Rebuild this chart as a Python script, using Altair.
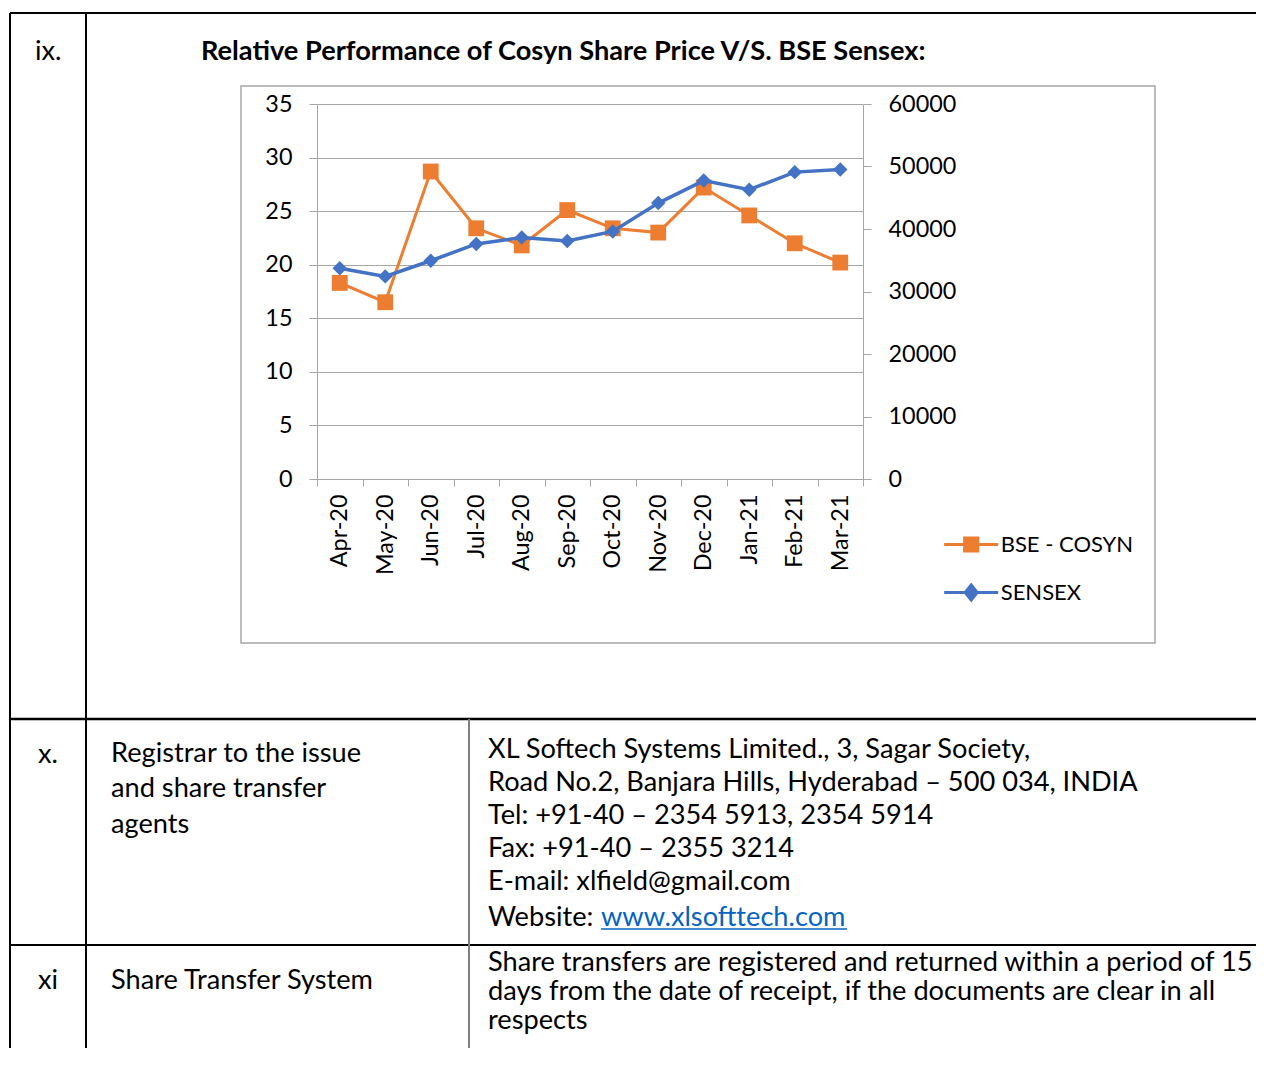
import altair as alt
import pandas as pd

# ---------------- data ----------------
months = ["Apr-20", "May-20", "Jun-20", "Jul-20", "Aug-20", "Sep-20",
          "Oct-20", "Nov-20", "Dec-20", "Jan-21", "Feb-21", "Mar-21"]
cosyn = [18.3, 16.5, 28.7, 23.4, 21.8, 25.1, 23.4, 23.0, 27.2, 24.6, 22.0, 20.2]
sensex = [33720, 32420, 34920, 37610, 38630, 38070, 39610, 44150, 47750, 46290, 49100, 49510]
series_names = ["BSE - COSYN", "SENSEX"]
left_ticks = [0, 5, 10, 15, 20, 25, 30, 35]
right_ticks = [0, 10000, 20000, 30000, 40000, 50000, 60000]

title_text = "Relative Performance of Cosyn Share Price V/S. BSE Sensex:"
row_ix = "ix."
row_x = "x."
row_xi = "xi"
registrar_label = ["Registrar to the issue", "and share transfer", "agents"]
registrar_lines = ["XL Softech Systems Limited., 3, Sagar Society,",
                   "Road No.2, Banjara Hills, Hyderabad \u2013 500 034, INDIA",
                   "Tel: +91-40 \u2013 2354 5913, 2354 5914",
                   "Fax: +91-40 \u2013 2355 3214",
                   "E-mail: xlfield@gmail.com"]
website_label = "Website: "
website_link = "www.xlsofttech.com"
transfer_label = "Share Transfer System"
transfer_lines = ["Share transfers are registered and returned within a period of 15",
                  "days from the date of receipt, if the documents are clear in all",
                  "respects"]

df = pd.DataFrame({
    "month": months * 2,
    "series": [series_names[0]] * len(months) + [series_names[1]] * len(months),
    "value": cosyn + sensex,
})

# ---------------- style ----------------
FONT = "Lato"
ORANGE = "#ED7D31"
BLUE = "#4472C4"
GRAY = "#a6a6a6"
OX, OY = 317, 104   # page position of the plot area's top-left corner
PW, PH = 546, 375
CANVAS_W, CANVAS_H = 1248, 1040
AX_FS = 23.4
BODY_FS = 27.2
TEXT_DY = 1.5


def px(v):
    return v - OX


def py(v):
    return v - OY


one = alt.InlineData(values=[{"k": 0}])

base = alt.Chart(df)
x_enc = alt.X("month:N", sort=months, bandPosition=0.5,
              scale=alt.Scale(type="band", paddingInner=0, paddingOuter=0),
              axis=alt.Axis(title=None, labelAngle=-90, tickBand="extent", tickSize=7,
                            labelPadding=8, domainColor=GRAY, tickColor=GRAY,
                            labelFont=FONT, labelFontSize=AX_FS, labelColor="black",
                            grid=False))

left_y = alt.Y("value:Q", scale=alt.Scale(domain=[0, 35], nice=False, zero=True),
               axis=alt.Axis(title=None, orient="left", values=left_ticks, grid=True,
                             gridColor=GRAY, gridWidth=1, tickSize=8, labelPadding=17,
                             domainColor=GRAY, tickColor=GRAY, labelFont=FONT,
                             labelFontSize=AX_FS, labelColor="black"))
right_y = alt.Y("value:Q", scale=alt.Scale(domain=[0, 60000], nice=False, zero=True),
                axis=alt.Axis(title=None, orient="right", values=right_ticks, grid=False,
                              format="d", tickSize=8, labelPadding=17,
                              domainColor=GRAY, tickColor=GRAY, labelFont=FONT,
                              labelFontSize=AX_FS, labelColor="black"))

cosyn_base = base.transform_filter(alt.datum.series == series_names[0])
left_group = alt.layer(
    cosyn_base.mark_line(color=ORANGE, strokeWidth=3).encode(x=x_enc, y=left_y),
    cosyn_base.mark_point(shape="square", filled=True, size=250, color=ORANGE,
                          opacity=1).encode(x=x_enc, y=left_y),
)
sensex_base = base.transform_filter(alt.datum.series == series_names[1])
right_group = alt.layer(
    sensex_base.mark_line(color=BLUE, strokeWidth=3.5).encode(x=x_enc, y=right_y),
    sensex_base.mark_point(shape="diamond", filled=True, size=210, color=BLUE,
                           opacity=1).encode(x=x_enc, y=right_y),
)

# legend (line with marker symbols), drawn by the library's legend
sq_path = "M-1.35,0H1.35M-0.33,-0.33H0.33V0.33H-0.33Z"
dia_path = "M-1.35,0H1.35M0,-0.38L0.3,0L0,0.38L-0.3,0Z"
LEG = alt.Legend(title=None, orient="none", legendX=px(949.7), legendY=py(523),
                 symbolSize=1600, symbolStrokeWidth=3, labelOffset=8, rowPadding=13,
                 padding=0, labelFont=FONT, labelFontSize=22.0, labelColor="black",
                 labelLimit=400)
legend_layer = base.transform_filter("false").mark_point(filled=True, opacity=1).encode(
    fill=alt.Fill("series:N", scale=alt.Scale(domain=series_names, range=[ORANGE, BLUE]), legend=LEG),
    stroke=alt.Stroke("series:N", scale=alt.Scale(domain=series_names, range=[ORANGE, BLUE]), legend=LEG),
    shape=alt.Shape("series:N", scale=alt.Scale(domain=series_names, range=[sq_path, dia_path]), legend=LEG),
)

# chart frame
frame = alt.Chart(one).mark_rect(fillOpacity=0, stroke=GRAY, strokeWidth=1.5).encode(
    x=alt.value(px(241)), x2=alt.value(px(1155)), y=alt.value(py(86)), y2=alt.value(py(643)))


# ---------------- surrounding table ----------------
def hline(y, x1, x2, color="black", w=2):
    return alt.Chart(one).mark_rule(color=color, strokeWidth=w).encode(
        x=alt.value(px(x1)), x2=alt.value(px(x2)), y=alt.value(py(y)))


def vline(x, y1, y2, color="black", w=2):
    return alt.Chart(one).mark_rule(color=color, strokeWidth=w).encode(
        x=alt.value(px(x)), y=alt.value(py(y1)), y2=alt.value(py(y2)))


def text(lines, x, y, size=BODY_FS, weight="normal", color="black", lh=None):
    kw = dict(align="left", baseline="middle", font=FONT, fontSize=size,
              fontWeight=weight, color=color)
    if lh is not None:
        kw["lineHeight"] = lh
    return alt.Chart(one).mark_text(**kw).encode(
        x=alt.value(px(x)), y=alt.value(py(y + TEXT_DY)), text=alt.value(lines))


table = [
    hline(13, 10, 1264), hline(719, 10, 1264, w=2.5), hline(945, 10, 1264),
    vline(10, 13, 1070), vline(86, 13, 1070), vline(469, 719, 1070, color="#7f7f7f"),
    text(row_ix, 35, 50),
    text(title_text, 201, 50, size=27.2, weight="bold"),
    text(row_x, 38, 753),
    text(registrar_label, 111, 752, lh=35.5),
    text(registrar_lines, 488, 748, lh=33),
    text(website_label, 488, 916),
    text(website_link, 601, 916, color="#0563C1"),
    hline(929, 601, 847, color="#0563C1", w=1.5),
    text(row_xi, 38, 979),
    text(transfer_label, 111, 979),
    text(transfer_lines, 488, 961, lh=29),
]

chart = alt.layer(frame, left_group, right_group, legend_layer, *table).resolve_scale(
    y="independent"
).properties(
    width=PW, height=PH,
    autosize=alt.AutoSizeParams(type="none"),
    padding={"left": OX - 8, "top": OY - 8,
             "right": CANVAS_W - (OX - 8) - PW,
             "bottom": CANVAS_H - (OY - 8) - PH},
    background="white",
).configure_view(strokeWidth=0)

chart.save("out.html", embed_options={"renderer": "svg", "actions": False})
